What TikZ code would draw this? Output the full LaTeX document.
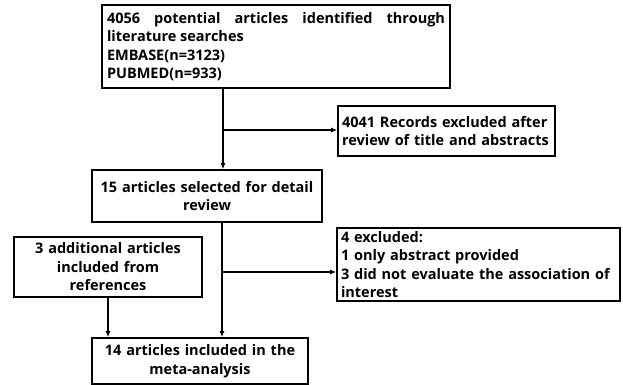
\documentclass[tikz,border=0pt]{standalone}
\usepackage{fontspec}
\setmainfont{Open Sans}
\usetikzlibrary{arrows.meta,positioning}
\hyphenpenalty=10000

\begin{document}
\begin{tikzpicture}[x=1pt, y=-1pt,
  box/.style={draw, line width=1.6pt, inner xsep=4pt, inner ysep=3pt, font={\bfseries\fontsize{14.5}{18.5}\selectfont}},
  flow/.style={line width=1.3pt, -{Latex[length=6pt,width=5pt]}},
]
\useasboundingbox (0,0) rectangle (623,385);
% boxes
\node[box, text width=338pt, minimum width=348pt, minimum height=83pt, align=justify] (search) at (276,46.5)
  {4056 potential articles identified through literature searches\\EMBASE(n=3123)\\PUBMED(n=933)};
\node[box, text width=209pt, minimum width=217pt, minimum height=50pt, align=left] (excl1) at (446.5,131)
  {4041 Records excluded after\\review of title and abstracts};
\node[box, text width=222pt, minimum width=230pt, minimum height=52pt, align=center] (select) at (207,196)
  {15 articles selected for detail\\review};
\node[box, text width=180pt, minimum width=188pt, minimum height=60pt, align=center] (add) at (108,267)
  {3 additional articles\\included from\\references};
\node[box, text width=275pt, minimum width=283pt, minimum height=63pt, align=left] (excl2) at (478.5,264.5)
  {4 excluded:\\1 only abstract provided\\3 did not evaluate the association of\\interest};
\node[box, text width=208pt, minimum width=216pt, minimum height=46pt, align=center] (incl) at (200,361)
  {14 articles included in the\\meta-analysis};
% connectors
\coordinate (j1) at (223,130);
\coordinate (j2) at (222,272);
\draw[flow] (search.south -| j1) -- (select.north -| j1);
\draw[flow] (j1) -- (j1 -| excl1.west);
\draw[flow] (select.south -| j2) -- (incl.north -| j2);
\draw[flow] (j2) -- (j2 -| excl2.west);
\draw[flow] (add.south) -- (add.south |- incl.north);
\end{tikzpicture}
\end{document}
